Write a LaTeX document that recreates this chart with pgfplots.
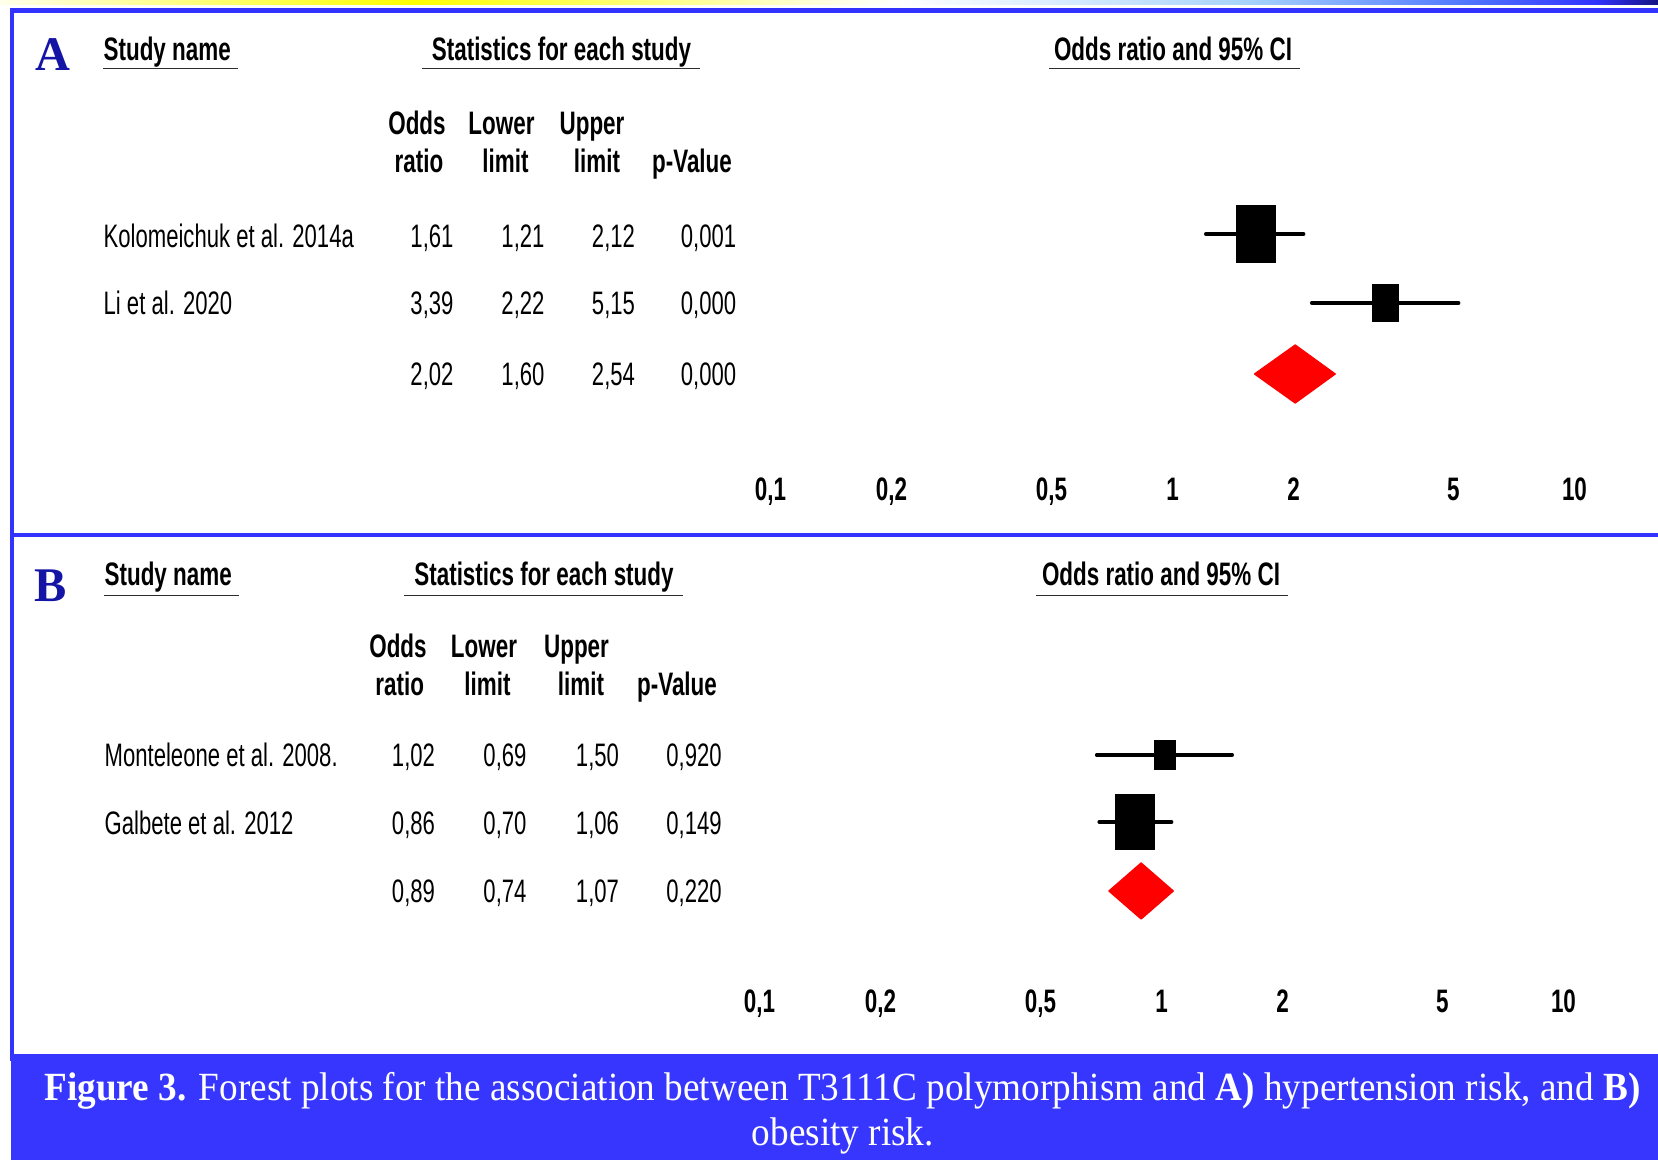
\documentclass[border=0pt]{standalone}
\usepackage{pgfplots}
\pgfplotsset{compat=1.18}
\usepackage{fontspec}
\setmainfont{Liberation Sans}
\newfontfamily\nar{Liberation Sans}[FakeStretch=0.68]
\newfontfamily\narb{Liberation Sans}[FakeStretch=0.69]
\newfontfamily\capf{Liberation Serif}[FakeStretch=0.93]
\newfontfamily\serf{Liberation Serif}
\definecolor{bline}{RGB}{51,51,255}
\definecolor{capbg}{RGB}{54,54,255}
\definecolor{lab}{RGB}{20,20,165}
\definecolor{ulc}{RGB}{45,45,45}
\definecolor{g0}{RGB}{255,255,235}
\definecolor{g1}{RGB}{255,255,0}
\definecolor{g2}{RGB}{255,255,225}
\definecolor{g3}{RGB}{255,255,255}
\definecolor{g4}{RGB}{215,235,255}
\definecolor{g5}{RGB}{165,210,250}
\definecolor{g6}{RGB}{80,120,255}
\definecolor{g7}{RGB}{50,50,255}
\definecolor{g8}{RGB}{20,20,130}
\newcommand\hd{\fontsize{9.75}{11}\selectfont\narb\bfseries}
\newcommand\tx{\fontsize{9.75}{11}\selectfont\nar}
\pgfplotsset{myforest/.style={
  scale only axis, width=241.2pt, xmin=0.1, xmax=10,
  axis line style={draw=none}, tick style={draw=none},
  ytick=\empty, xtick={0.1,0.2,0.5,1,2,5,10},
  xticklabels={{0,1},{0,2},{0,5},1,2,5,10},
  xticklabel style={anchor=base, inner sep=0pt, font=\hd},
  clip=false}}
\begin{document}
\begin{tikzpicture}
\begin{scope}[x=0.3pt,y=-0.3pt]
\path[use as bounding box] (0,0) rectangle (1658,1160);
% top gradient strip
\shade[left color=g0, right color=g1] (0,0) rectangle (413.5,4.5);
\shade[left color=g1, right color=g2] (413,0) rectangle (830.5,4.5);
\shade[left color=g2, right color=g3] (830,0) rectangle (900.5,4.5);
\shade[left color=g3, right color=g4] (900,0) rectangle (1066.5,4.5);
\shade[left color=g4, right color=g5] (1066,0) rectangle (1252.5,4.5);
\shade[left color=g5, right color=g6] (1252,0) rectangle (1463.5,4.5);
\shade[left color=g6, right color=g7] (1463,0) rectangle (1595.5,4.5);
\shade[left color=g7, right color=g8] (1595,0) rectangle (1658,4.5);
% frame
\fill[bline] (10,8.5) rectangle (1658,12.8);
\fill[bline] (10,8.5) rectangle (14.3,1061);
\fill[bline] (10,533) rectangle (1658,537.3);
% caption
\fill[capbg] (11,1054) rectangle (1658,1160);
\node[anchor=base, inner sep=0pt, text=white, font=\fontsize{12}{14}\selectfont\capf] at (842.5,1101)
  {\textbf{Figure 3.} Forest plots for the association between T3111C polymorphism and \textbf{A)} hypertension risk, and \textbf{B)}};
\node[anchor=base, inner sep=0pt, text=white, font=\fontsize{12}{14}\selectfont\capf] at (842.8,1146) {obesity risk.};
% panel labels
\node[anchor=base, inner sep=0pt, text=lab, font=\fontsize{14.5}{16}\selectfont\serf\bfseries] at (52.7,70.7) {A};
\node[anchor=base, inner sep=0pt, text=lab, font=\fontsize{14.5}{16}\selectfont\serf\bfseries] at (51,601.7) {B};
% ---------- Panel A text
\begin{scope}[every node/.style={inner sep=0pt}]
\node[anchor=base west, font=\hd] at (103,61) {Study name};
\node[anchor=base, font=\hd] at (561.5,61) {Statistics for each study};
\node[anchor=base, font=\hd] at (1173,61) {Odds ratio and 95\% CI};
\draw[ulc, line width=0.4pt] (103,68.3) -- (238,68.3);
\draw[ulc, line width=0.4pt] (422,68.3) -- (700,68.3);
\draw[ulc, line width=0.4pt] (1049,68.3) -- (1300,68.3);
\node[anchor=base, font=\hd] at (417,135) {Odds};
\node[anchor=base, font=\hd] at (419,173) {ratio};
\node[anchor=base, font=\hd] at (501.5,135) {Lower};
\node[anchor=base, font=\hd] at (505.5,173) {limit};
\node[anchor=base, font=\hd] at (592,135) {Upper};
\node[anchor=base, font=\hd] at (597,173) {limit};
\node[anchor=base, font=\hd] at (692,173) {p-Value};
\node[anchor=base west, font=\tx] at (103,248) {Kolomeichuk et al. 2014a};
\node[anchor=base west, font=\tx] at (103,315) {Li et al. 2020};
\node[anchor=base, font=\tx] at (432,248) {1,61};
\node[anchor=base, font=\tx] at (523,248) {1,21};
\node[anchor=base, font=\tx] at (613.5,248) {2,12};
\node[anchor=base, font=\tx] at (708.5,248) {0,001};
\node[anchor=base, font=\tx] at (432,315) {3,39};
\node[anchor=base, font=\tx] at (523,315) {2,22};
\node[anchor=base, font=\tx] at (613.5,315) {5,15};
\node[anchor=base, font=\tx] at (708.5,315) {0,000};
\node[anchor=base, font=\tx] at (432,386) {2,02};
\node[anchor=base, font=\tx] at (523,386) {1,60};
\node[anchor=base, font=\tx] at (613.5,386) {2,54};
\node[anchor=base, font=\tx] at (708.5,386) {0,000};
% ---------- Panel B text
\node[anchor=base west, font=\hd] at (104,586) {Study name};
\node[anchor=base, font=\hd] at (544,586) {Statistics for each study};
\node[anchor=base, font=\hd] at (1161,586) {Odds ratio and 95\% CI};
\draw[ulc, line width=0.4pt] (104,595.7) -- (239,595.7);
\draw[ulc, line width=0.4pt] (404,595.7) -- (683,595.7);
\draw[ulc, line width=0.4pt] (1036,595.7) -- (1288,595.7);
\node[anchor=base, font=\hd] at (398,658) {Odds};
\node[anchor=base, font=\hd] at (399.7,696) {ratio};
\node[anchor=base, font=\hd] at (484,658) {Lower};
\node[anchor=base, font=\hd] at (487.5,696) {limit};
\node[anchor=base, font=\hd] at (576.5,658) {Upper};
\node[anchor=base, font=\hd] at (581,696) {limit};
\node[anchor=base, font=\hd] at (677,696) {p-Value};
\node[anchor=base west, font=\tx] at (104,766.5) {Monteleone et al. 2008.};
\node[anchor=base west, font=\tx] at (104,835) {Galbete et al. 2012};
\node[anchor=base, font=\tx] at (413.5,766.5) {1,02};
\node[anchor=base, font=\tx] at (505,766.5) {0,69};
\node[anchor=base, font=\tx] at (597.5,766.5) {1,50};
\node[anchor=base, font=\tx] at (694,766.5) {0,920};
\node[anchor=base, font=\tx] at (413.5,835) {0,86};
\node[anchor=base, font=\tx] at (505,835) {0,70};
\node[anchor=base, font=\tx] at (597.5,835) {1,06};
\node[anchor=base, font=\tx] at (694,835) {0,149};
\node[anchor=base, font=\tx] at (413.5,902.5) {0,89};
\node[anchor=base, font=\tx] at (505,902.5) {0,74};
\node[anchor=base, font=\tx] at (597.5,902.5) {1,07};
\node[anchor=base, font=\tx] at (694,902.5) {0,220};
\end{scope}
\end{scope}
% ---------- Panel A plot
\begin{axis}[xmode=log, myforest, at={(231.15pt,-150.3pt)}, anchor=south west,
  height=96.3pt, ymin=-501, ymax=-180]
\addplot[black, line width=1.05pt, line cap=round] coordinates {(1.21,-234) (2.12,-234)};
\addplot[black, only marks, mark=square*, mark size=8.4pt, mark options={xscale=0.69}] coordinates {(1.61,-234)};
\addplot[black, line width=1.05pt, line cap=round] coordinates {(2.22,-303) (5.15,-303)};
\addplot[black, only marks, mark=square*, mark size=5.6pt, mark options={xscale=0.69}] coordinates {(3.39,-303)};
\addplot[red, fill=red, line join=round] coordinates {(1.60,-374) (2.02,-345) (2.54,-374) (2.02,-403) (1.60,-374)};
\end{axis}
% ---------- Panel B plot
\begin{axis}[xmode=log, myforest, at={(227.85pt,-303.9pt)}, anchor=south west,
  height=96.9pt, ymin=-1013, ymax=-690]
\addplot[black, line width=1.05pt, line cap=round] coordinates {(0.69,-755) (1.50,-755)};
\addplot[black, only marks, mark=square*, mark size=4.3pt, mark options={xscale=0.72}] coordinates {(1.02,-755)};
\addplot[black, line width=1.05pt, line cap=round] coordinates {(0.70,-822) (1.06,-822)};
\addplot[black, only marks, mark=square*, mark size=8.1pt, mark options={xscale=0.72}] coordinates {(0.86,-822)};
\addplot[red, fill=red, line join=round] coordinates {(0.74,-891) (0.89,-863) (1.07,-891) (0.89,-919) (0.74,-891)};
\end{axis}
\end{tikzpicture}
\end{document}
